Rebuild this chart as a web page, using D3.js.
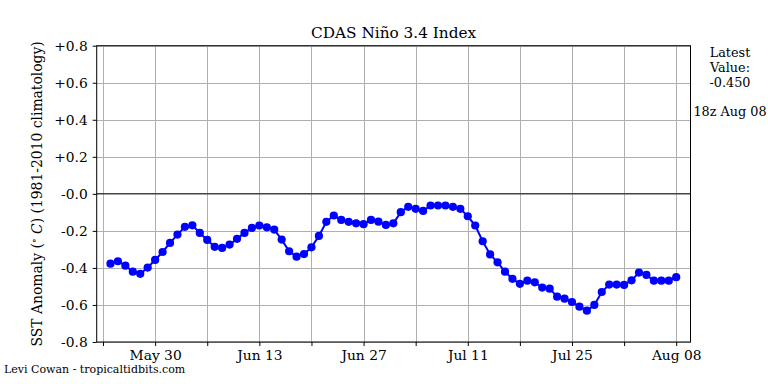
<!DOCTYPE html>
<html><head><meta charset="utf-8">
<script src="https://cdn.jsdelivr.net/npm/d3@7"></script>
<style>body{margin:0;background:#fff}svg{display:block}text{font-family:"DejaVu Serif",serif}</style>
</head><body><svg id="c" width="768" height="384"></svg>
<script>
const startDate = "2021-05-24";
const values = [-0.377,-0.364,-0.388,-0.420,-0.432,-0.398,-0.357,-0.314,-0.265,-0.220,-0.178,-0.170,-0.211,-0.249,-0.286,-0.292,-0.274,-0.243,-0.211,-0.184,-0.171,-0.181,-0.193,-0.247,-0.310,-0.339,-0.325,
-0.289,-0.227,-0.151,-0.117,-0.141,-0.151,-0.159,-0.164,-0.141,-0.150,-0.168,-0.159,-0.099,-0.070,-0.081,-0.092,-0.063,-0.063,-0.063,-0.070,-0.081,-0.121,-0.171,-0.256,-0.327,-0.370,
-0.420,-0.459,-0.486,-0.469,-0.478,-0.506,-0.512,-0.555,-0.566,-0.584,-0.609,-0.631,-0.600,-0.530,-0.490,-0.490,-0.492,-0.467,-0.425,-0.438,-0.469,-0.469,-0.469,-0.450];
const yTicks = [0.8,0.6,0.4,0.2,0,-0.2,-0.4,-0.6,-0.8];
const yTickLabels = ["+0.8","+0.6","+0.4","+0.2","-0.0","-0.2","-0.4","-0.6","-0.8"];
const xMajorTicks = ["2021-05-30","2021-06-13","2021-06-27","2021-07-11","2021-07-25","2021-08-08"];
const xMajorLabels = ["May 30","Jun 13","Jun 27","Jul 11","Jul 25","Aug 08"];
const xMinorTicks = ["2021-05-23","2021-06-06","2021-06-20","2021-07-04","2021-07-18","2021-08-01"];
const title = "CDAS Niño 3.4 Index";
const latestValue = "-0.450";
const latestTime = "18z Aug 08";
const credit = "Levi Cowan - tropicaltidbits.com";

const DAY = 864e5;
const parse = s => new Date(s + "T00:00:00Z");
const t0 = parse(startDate);
const data = values.map((v,i)=>({d:new Date(+t0 + i*DAY), v}));

const L=96.7, R=690.5, T=45.7, B=342;
const x = d3.scaleUtc()
  .domain([new Date(+parse("2021-05-23") - 0.85*DAY), new Date(+parse("2021-08-08") + 1.92*DAY)])
  .range([L,R]);
const y = d3.scaleLinear().domain([-0.8,0.8]).range([B,T]);

const svg = d3.select("#c");
const allX = xMinorTicks.concat(xMajorTicks).map(parse);

// grid
const g = svg.append("g");
g.selectAll(".vg").data(allX).join("line")
  .attr("x1",d=>Math.round(x(d))+0.5).attr("x2",d=>Math.round(x(d))+0.5)
  .attr("y1",T).attr("y2",B).attr("stroke","#b0b0b0").attr("stroke-width",1);
g.selectAll(".hg").data(yTicks.filter(v=>v!==0)).join("line")
  .attr("x1",L).attr("x2",R).attr("y1",d=>Math.round(y(d))+0.5).attr("y2",d=>Math.round(y(d))+0.5)
  .attr("stroke","#b0b0b0").attr("stroke-width",1);
// zero line
g.append("line").attr("x1",L).attr("x2",R).attr("y1",y(0)).attr("y2",y(0))
  .attr("stroke","#444").attr("stroke-width",1.5);

// line + markers
svg.append("path").datum(data)
  .attr("d", d3.line().x(d=>x(d.d)).y(d=>y(d.v)))
  .attr("fill","none").attr("stroke","#0000ff").attr("stroke-width",2);
svg.selectAll(".pt").data(data).join("circle")
  .attr("cx",d=>x(d.d)).attr("cy",d=>y(d.v)).attr("r",4.1).attr("fill","#0000ff");

// frame
svg.append("rect").attr("x",L).attr("y",T).attr("width",R-L).attr("height",B-T)
  .attr("fill","none").attr("stroke","#000").attr("stroke-width",1);

// axes
const yAxis = d3.axisLeft(y).tickValues(yTicks).tickFormat((d,i)=>yTickLabels[i]).tickSize(4).tickPadding(5);
const ya = svg.append("g").attr("transform",`translate(${L},0)`).call(yAxis);
const xAxisMaj = d3.axisBottom(x).tickValues(xMajorTicks.map(parse)).tickFormat((d,i)=>xMajorLabels[i]).tickSize(4).tickPadding(4);
const xa = svg.append("g").attr("transform",`translate(0,${B})`).call(xAxisMaj);
const xAxisMin = d3.axisBottom(x).tickValues(xMinorTicks.map(parse)).tickFormat("").tickSize(4);
const xm = svg.append("g").attr("transform",`translate(0,${B})`).call(xAxisMin);
[ya,xa,xm].forEach(a=>{
  a.select(".domain").remove();
  a.selectAll("line").attr("stroke","#000");
  a.selectAll("text").attr("fill","#000").style("font-family","'DejaVu Serif',serif").style("font-size","13.8px");
});

// title
svg.append("text").attr("x",(L+R)/2).attr("y",38).attr("text-anchor","middle")
  .style("font-size","15.3px").text(title);

// y label
const yl = svg.append("text").attr("transform",`translate(42,${(T+B)/2}) rotate(-90)`)
  .attr("text-anchor","middle").style("font-size","13.9px");
yl.append("tspan").text("SST Anomaly (");
yl.append("tspan").attr("font-size","9.5px").attr("dy","-5").text("∘");
yl.append("tspan").attr("dy","5").text(" ");
yl.append("tspan").attr("font-style","italic").text("C");
yl.append("tspan").text(") (1981-2010 climatology)");

// right annotation
const rx = 730;
["Latest","Value:",latestValue].forEach((s,i)=>{
  svg.append("text").attr("x",rx).attr("y",57+i*15).attr("text-anchor","middle")
    .style("font-size","12.8px").text(s);
});
svg.append("text").attr("x",rx).attr("y",116).attr("text-anchor","middle")
  .style("font-size","12.8px").text(latestTime);

// credit
svg.append("text").attr("x",4).attr("y",373).style("font-size","11px").text(credit);
</script></body></html>
